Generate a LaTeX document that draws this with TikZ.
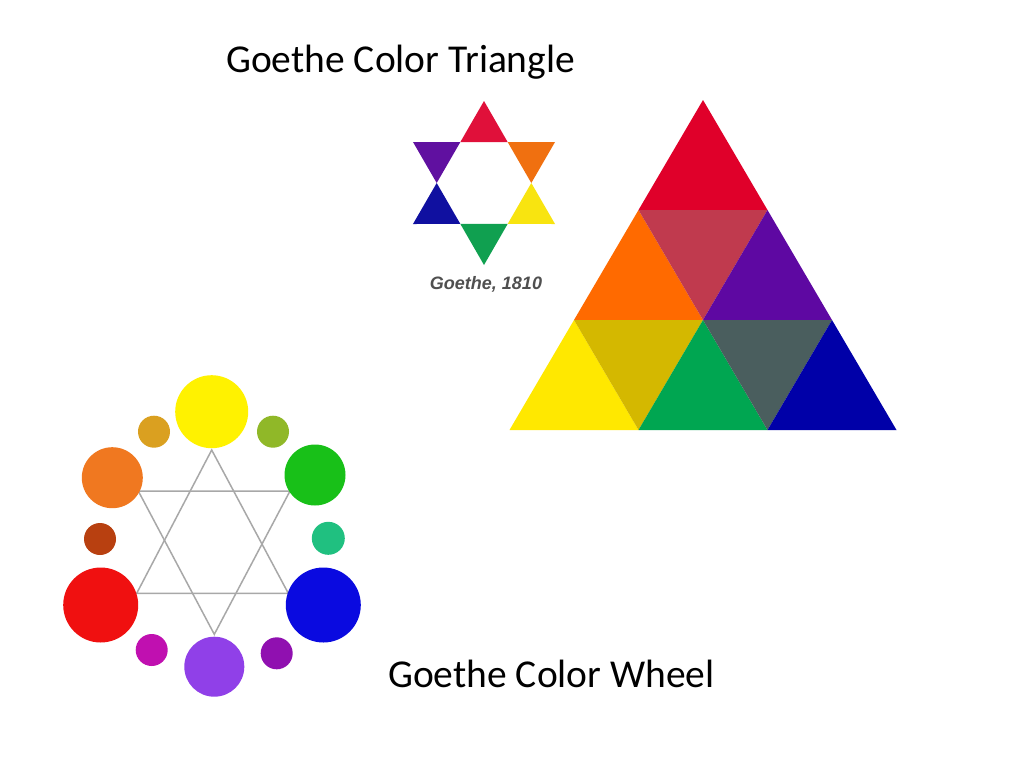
\documentclass[tikz,border=0pt]{standalone}
\usepackage{fontspec}
\setmainfont{Carlito}
\newfontfamily\capfont{Liberation Sans}
\usetikzlibrary{positioning}

\definecolor{tRed}{HTML}{E0002A}
\definecolor{tOrange}{HTML}{FF6A00}
\definecolor{tRose}{HTML}{C03A4E}
\definecolor{tPurple}{HTML}{5E08A2}
\definecolor{tYellow}{HTML}{FFE800}
\definecolor{tOlive}{HTML}{D4B800}
\definecolor{tGreen}{HTML}{00A651}
\definecolor{tSlate}{HTML}{4A5E5E}
\definecolor{tBlue}{HTML}{0000A8}

\definecolor{sRed}{HTML}{E0103A}
\definecolor{sOrange}{HTML}{F07010}
\definecolor{sYellow}{HTML}{F8E410}
\definecolor{sGreen}{HTML}{10A050}
\definecolor{sBlue}{HTML}{1010A0}
\definecolor{sPurple}{HTML}{6010A0}
\definecolor{capgray}{HTML}{505050}

\definecolor{wYellow}{HTML}{FFF200}
\definecolor{wOchre}{HTML}{DAA020}
\definecolor{wLime}{HTML}{90B828}
\definecolor{wOrange}{HTML}{F07820}
\definecolor{wGreen}{HTML}{18C018}
\definecolor{wBrown}{HTML}{B84010}
\definecolor{wTeal}{HTML}{20C080}
\definecolor{wRed}{HTML}{F01010}
\definecolor{wBlue}{HTML}{0A0AE0}
\definecolor{wMagenta}{HTML}{C010B0}
\definecolor{wPlum}{HTML}{9010B0}
\definecolor{wViolet}{HTML}{9040E8}
\definecolor{wLine}{HTML}{A8A8A8}

\begin{document}
\begin{tikzpicture}[x=1pt,y=-1pt,
    dot/.style={circle,draw=none,inner sep=0pt,minimum size=#1},
    spoke/.style={draw=wLine,line width=1.5pt}]
  \useasboundingbox (0,0) rectangle (1024,768);
  \fill[white] (0,0) rectangle (1024,768);

  \node[anchor=base west,inner sep=0pt] (title) at (226,72)
    {\fontsize{39.5}{47}\selectfont Goethe Color Triangle};

  % large triangle, three rows
  \foreach \k in {0,...,3}
    \foreach \j in {0,...,\k}
      \coordinate (t\k\j) at ({703+(\j-\k/2)*129},{100+\k*110});
  \fill[tRed]    (t00)--(t10)--(t11)--cycle;
  \fill[tOrange] (t10)--(t20)--(t21)--cycle;
  \fill[tRose]   (t10)--(t11)--(t21)--cycle;
  \fill[tPurple] (t11)--(t21)--(t22)--cycle;
  \fill[tYellow] (t20)--(t30)--(t31)--cycle;
  \fill[tOlive]  (t20)--(t21)--(t31)--cycle;
  \fill[tGreen]  (t21)--(t31)--(t32)--cycle;
  \fill[tSlate]  (t21)--(t22)--(t32)--cycle;
  \fill[tBlue]   (t22)--(t32)--(t33)--cycle;

  % small star
  \foreach \a/\c in {90/sRed,30/sOrange,-30/sYellow,-90/sGreen,-150/sBlue,150/sPurple}
    \fill[\c] ({484+82*cos(\a)},{183-82*sin(\a)})
      -- ({484+47.3*cos(\a+30)},{183-47.3*sin(\a+30)})
      -- ({484+47.3*cos(\a-30)},{183-47.3*sin(\a-30)}) -- cycle;
  \node[text=capgray,inner sep=0pt] (cap) at (486,284)
    {\capfont\bfseries\itshape\fontsize{18}{20}\selectfont Goethe, 1810};

  % wheel
  \coordinate (wA) at (211.7,450);
  \coordinate (wB) at (136.7,593.3);
  \coordinate (wC) at (288.3,593.3);
  \coordinate (wD) at (214.3,634.3);
  \coordinate (wE) at (138.3,491);
  \coordinate (wF) at (290,491);
  \draw[spoke] (wA)--(wB)--(wC)--cycle;
  \draw[spoke] (wD)--(wE)--(wF)--cycle;

  \node[dot=73pt,fill=wYellow]  (yellow)  at (211.7,411.7) {};
  \node[dot=32pt,fill=wOchre]   (ochre)   at (154,431.7) {};
  \node[dot=32pt,fill=wLime]    (lime)    at (273,431.7) {};
  \node[dot=61pt,fill=wOrange]  (orange)  at (112.3,477.7) {};
  \node[dot=61pt,fill=wGreen]   (green)   at (315,475) {};
  \node[dot=32pt,fill=wBrown]   (brown)   at (100,539) {};
  \node[dot=33pt,fill=wTeal]    (teal)    at (328.3,538.3) {};
  \node[dot=75pt,fill=wRed]     (red)     at (100.7,605) {};
  \node[dot=75pt,fill=wBlue]    (blue)    at (323.3,605) {};
  \node[dot=32pt,fill=wMagenta] (magenta) at (151.7,650) {};
  \node[dot=32pt,fill=wPlum]    (plum)    at (276.7,653.3) {};
  \node[dot=60pt,fill=wViolet]  (violet)  at (214.3,666.7) {};

  \node[anchor=base west,inner sep=0pt] (wheel) at (388,687)
    {\fontsize{39.5}{47}\selectfont Goethe Color Wheel};
\end{tikzpicture}
\end{document}
